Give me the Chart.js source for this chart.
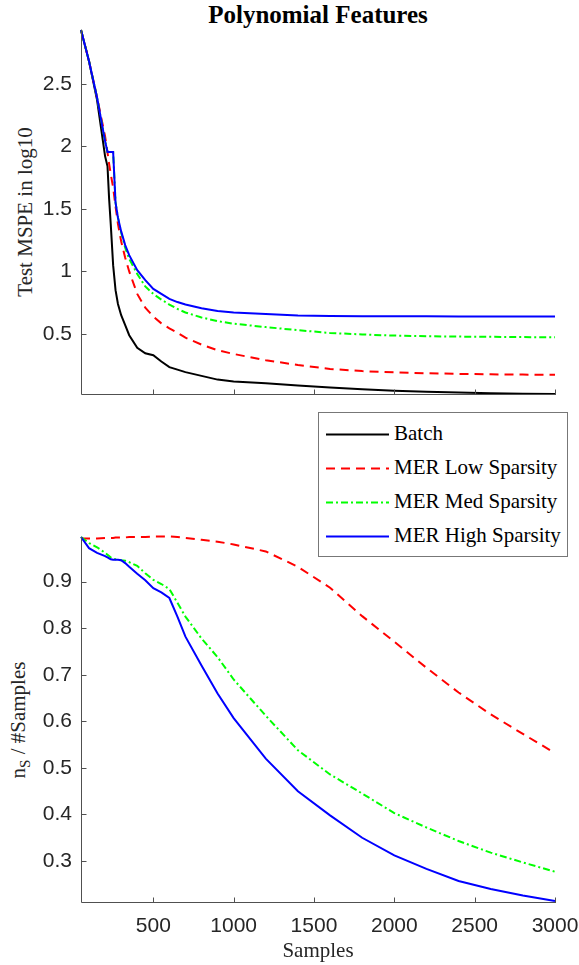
<!DOCTYPE html>
<html>
<head>
<meta charset="utf-8">
<script src="https://cdn.jsdelivr.net/npm/chart.js@4"></script>
<style>
body{margin:0;background:#fff;width:579px;height:965px;position:relative;overflow:hidden}
canvas{position:absolute;left:0}
#topChart{top:0}
#bottomChart{top:480px}
.title{position:absolute;left:318px;top:2px;transform:translateX(-50%);font:bold 25px "Liberation Serif";line-height:25px;white-space:nowrap;color:#000}
.ylab{position:absolute;font:21px "Liberation Serif";line-height:21px;white-space:nowrap;color:#262626;transform:translate(-50%,-50%) rotate(-90deg)}
.ylab .sub{font-size:15px;position:relative;top:5px}
#legend{position:absolute;left:318px;top:412px;width:250px;height:145px;border:1px solid #777;background:#fff;box-sizing:border-box;padding-top:4px}
.row{position:relative;height:34px}
.row svg{position:absolute;left:0;top:0}
.row span{position:absolute;left:75px;top:4px;line-height:34px;font:21px "Liberation Serif";color:#000;white-space:nowrap}
</style>
</head>
<body>
<div class="title">Polynomial Features</div>
<div class="ylab" style="left:25px;top:212px">Test MSPE in log10</div>
<div class="ylab" style="left:19px;top:720px">n<span class="sub">S</span> / #Samples</div>
<canvas id="topChart" width="579" height="400"></canvas>
<canvas id="bottomChart" width="579" height="485"></canvas>
<div id="legend"></div>
<script>
const samples = [50,100,150,200,215,225,235,250,265,280,300,325,350,400,450,500,550,600,650,700,800,900,1000,1200,1400,1600,1800,2000,2200,2400,2600,2800,3000]

const seriesNames = ["Batch","MER Low Sparsity","MER Med Sparsity","MER High Sparsity"]

// test MSPE (log10)
const mspeBatch = [2.93,2.68,2.37,1.92,1.84,1.58,1.38,1.05,0.85,0.74,0.65,0.57,0.49,0.39,0.345,0.33,0.28,0.235,0.215,0.195,0.165,0.135,0.12,0.105,0.088,0.072,0.058,0.046,0.038,0.031,0.026,0.022,0.02]
const mspeLow = [2.93,2.68,2.39,2.08,1.95,1.86,1.78,1.67,1.52,1.38,1.24,1.11,1.0,0.82,0.71,0.64,0.585,0.545,0.51,0.47,0.415,0.37,0.34,0.29,0.252,0.22,0.203,0.193,0.186,0.181,0.177,0.175,0.173]
const mspeMed = [2.93,2.68,2.39,2.04,1.955,1.955,1.955,1.955,1.55,1.43,1.31,1.19,1.1,0.98,0.88,0.82,0.775,0.735,0.7,0.672,0.632,0.602,0.582,0.555,0.53,0.508,0.496,0.487,0.482,0.479,0.477,0.475,0.473]
const mspeHigh = [2.93,2.68,2.39,2.04,1.955,1.955,1.955,1.955,1.55,1.43,1.32,1.21,1.13,1.01,0.93,0.86,0.82,0.78,0.755,0.735,0.705,0.683,0.672,0.66,0.648,0.643,0.642,0.641,0.641,0.64,0.64,0.64,0.64]

// n_S / #Samples
const ratioLow = [0.993,0.993,0.993,0.994,0.994,0.994,0.994,0.994,0.995,0.995,0.995,0.995,0.996,0.996,0.996,0.997,0.997,0.997,0.996,0.994,0.99,0.986,0.98,0.965,0.932,0.887,0.826,0.771,0.715,0.662,0.615,0.573,0.532]
const ratioMed = [0.996,0.983,0.974,0.962,0.958,0.955,0.952,0.949,0.948,0.947,0.946,0.945,0.942,0.934,0.918,0.904,0.895,0.884,0.855,0.825,0.778,0.738,0.69,0.612,0.538,0.486,0.445,0.403,0.372,0.343,0.318,0.297,0.277]
const ratioHigh = [0.996,0.972,0.962,0.955,0.952,0.95,0.948,0.947,0.947,0.947,0.946,0.94,0.932,0.917,0.903,0.886,0.877,0.865,0.825,0.782,0.72,0.66,0.607,0.52,0.45,0.398,0.35,0.312,0.283,0.257,0.24,0.226,0.214]

const xTicks = [500,1000,1500,2000,2500,3000]
const topYTicks = [0.5,1,1.5,2,2.5]
const bottomYTicks = [0.3,0.4,0.5,0.6,0.7,0.8,0.9]

const colors = ["#000000","#ff0000","#00ff00","#0000ff"]
const dashes = [[],[9,6],[7,3,2,3],[]]
const axisColor = "#505050"

Chart.defaults.font.family = '"Liberation Sans", Arial, sans-serif'
Chart.defaults.font.size = 21
Chart.defaults.color = "#262626"

const inwardTicks = {
    id:"inwardTicks",
    afterDraw(chart){
        const {ctx, chartArea:a, scales:{x,y}} = chart
        ctx.save()
        ctx.strokeStyle = axisColor
        ctx.lineWidth = 1
        ctx.beginPath()
        const l = Math.round(a.left)+0.5
        const b = Math.round(a.bottom)+0.5
        ctx.moveTo(l, a.top)
        ctx.lineTo(l, b)
        ctx.lineTo(a.right+1, b)
        x.ticks.forEach(t => {
            const px = Math.round(x.getPixelForValue(t.value))+0.5
            ctx.moveTo(px, b)
            ctx.lineTo(px, b-5)
        })
        y.ticks.forEach(t => {
            const py = Math.round(y.getPixelForValue(t.value))+0.5
            ctx.moveTo(l, py)
            ctx.lineTo(l+5, py)
        })
        ctx.stroke()
        ctx.restore()
    }
}

function noMargins(s){
    s.paddingTop = 0
    s.paddingBottom = 0
    s.paddingLeft = 0
    s.paddingRight = 0
}

function makeChart(id, series, idx, yMin, yMax, yTicks, showX, padTop){
    const datasets = series.map((vals,k) => ({
        label:seriesNames[idx[k]],
        data:samples.map((s,i) => ({x:s, y:vals[i]})),
        borderColor:colors[idx[k]],
        borderDash:dashes[idx[k]],
        borderWidth:2,
        pointRadius:0,
        tension:0,
        fill:false,
        clip:4,
        order:10-idx[k]
    }))
    return new Chart(document.getElementById(id),{
        type:"line",
        data:{datasets},
        options:{
            responsive:false,
            animation:false,
            layout:{padding:{top:padTop, right:24, left:0, bottom:0}},
            plugins:{legend:{display:false}, tooltip:{enabled:false}},
            scales:{
                x:{
                    type:"linear", min:50, max:3000,
                    grid:{display:false, drawTicks:false}, border:{display:false},
                    afterBuildTicks:s => { s.ticks = xTicks.map(v => ({value:v})) },
                    afterFit:s => { s.height = showX ? 63 : 6; noMargins(s) },
                    ticks:{display:showX, padding:12, maxRotation:0, callback:v => String(v)},
                    title:{display:showX, text:"Samples", color:"#262626",
                        font:{family:'"Liberation Serif"', size:21}, padding:{top:0,bottom:1}}
                },
                y:{
                    type:"linear", min:yMin, max:yMax,
                    grid:{display:false, drawTicks:false}, border:{display:false},
                    afterBuildTicks:s => { s.ticks = yTicks.map(v => ({value:v})) },
                    afterFit:s => { s.width = 81; noMargins(s) },
                    ticks:{padding:9, callback:v => String(v)}
                }
            }
        },
        plugins:[inwardTicks]
    })
}

makeChart("topChart", [mspeBatch, mspeLow, mspeMed, mspeHigh], [0,1,2,3], 0.02, 2.93, topYTicks, false, 30)
makeChart("bottomChart", [ratioLow, ratioMed, ratioHigh], [1,2,3], 0.212, 0.996, bottomYTicks, true, 57)

// legend
const legend = document.getElementById("legend")
seriesNames.forEach((name,i) => {
    const row = document.createElement("div")
    row.className = "row"
    row.innerHTML = `
    <svg width="72" height="34"><line x1="7" y1="17.5" x2="70" y2="17.5" stroke="${colors[i]}" stroke-width="2" stroke-dasharray="${dashes[i].join(" ")}"/></svg>
    <span>${name}</span>
    `
    legend.appendChild(row)
})
</script>
</body>
</html>
